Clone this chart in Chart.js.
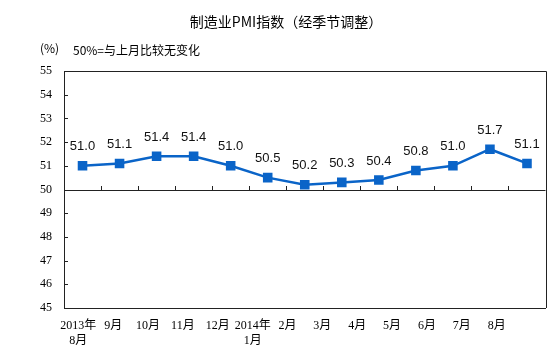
<!DOCTYPE html>
<html>
<head>
<meta charset="utf-8">
<script src="https://cdn.jsdelivr.net/npm/chart.js@4"></script>
<style>
  html, body { margin: 0; padding: 0; background: #fff; }
  #box { width: 553px; height: 364px; position: relative; }
</style>
</head>
<body>
<div id="box"><canvas id="grafico"></canvas></div>
<script>
// Dados do gráfico
const rotulosMeses = [['2013年', '8月'], '9月', '10月', '11月', '12月', ['2014年', '1月'], '2月', '3月', '4月', '5月', '6月', '7月', '8月'];
const valoresPMI = [51.0, 51.1, 51.4, 51.4, 51.0, 50.5, 50.2, 50.3, 50.4, 50.8, 51.0, 51.7, 51.1];
const escalaY = { min: 45, max: 55, passo: 1 };
const linhaBase = 50;
// faixa do eixo dos rótulos (no original os rótulos têm espaçamento menor que os pontos)
const faixaRotulos = { min: -0.41, max: 13.4 };

const titulo = '制造业PMI指数（经季节调整）';
const unidade = '(%)';
const nota = '50%=与上月比较无变化';

const fonteSerif = "'Liberation Serif', 'Noto Sans CJK SC', serif";
const fonteCJK = "'Noto Sans CJK SC', sans-serif";

// Plugin: textos, linha dos 50, marcas de escala e rótulos dos valores
const pluginExtras = {
    id: 'extras',
    afterDraw(chart) {
        const ctx = chart.ctx;
        const area = chart.chartArea;
        const x = chart.scales.x;
        const y = chart.scales.y;
        ctx.save();

        // borda superior e direita
        ctx.strokeStyle = '#222';
        ctx.lineWidth = 1;
        ctx.beginPath();
        ctx.moveTo(area.left, Math.round(area.top) + 0.5);
        ctx.lineTo(Math.round(area.right) + 0.5, Math.round(area.top) + 0.5);
        ctx.lineTo(Math.round(area.right) + 0.5, area.bottom);
        ctx.stroke();

        // linha dos 50
        const y50 = Math.round(y.getPixelForValue(linhaBase));
        ctx.beginPath();
        ctx.moveTo(area.left, y50 + 0.5);
        ctx.lineTo(area.right, y50 + 0.5);

        // marcas do eixo x sobre a linha dos 50
        const larg = (area.right - area.left) / rotulosMeses.length;
        for (let i = 1; i < rotulosMeses.length; i++) {
            const px = Math.round(x.getPixelForValue(i) - larg / 2) + 0.5;
            ctx.moveTo(px, y50);
            ctx.lineTo(px, y50 - 4);
        }
        // marcas do eixo y (para dentro)
        for (let v = escalaY.min + 1; v < escalaY.max; v++) {
            const py = Math.round(y.getPixelForValue(v)) + 0.5;
            ctx.moveTo(area.left, py);
            ctx.lineTo(area.left + 4, py);
        }
        ctx.stroke();

        // rótulos dos valores
        const meta = chart.getDatasetMeta(0);
        ctx.fillStyle = '#111';
        ctx.font = "13px 'Liberation Sans', Arial, sans-serif";
        ctx.textAlign = 'center';
        ctx.textBaseline = 'middle';
        meta.data.forEach((pt, i) => {
            ctx.fillText(valoresPMI[i].toFixed(1), pt.x, pt.y - 19);
        });

        // título e notas
        ctx.fillStyle = '#000';
        ctx.font = '14px ' + fonteCJK;
        ctx.fillText(titulo, 286, 22);
        ctx.font = '12px ' + fonteCJK;
        ctx.textAlign = 'left';
        ctx.fillText(unidade, 40, 48);
        ctx.fillText(nota, 73, 50);
        ctx.restore();
    }
};

function desenharGrafico() {
    const ctx = document.getElementById('grafico');
    new Chart(ctx.getContext('2d'), {
        type: 'line',
        data: {
            labels: rotulosMeses,
            datasets: [{
                label: 'PMI',
                data: valoresPMI,
                borderColor: '#0A64C8',
                backgroundColor: '#0A64C8',
                borderWidth: 2.5,
                pointStyle: 'rect',
                pointRadius: 5,
                pointHoverRadius: 5,
                tension: 0,
                fill: false,
                xAxisID: 'x'
            }]
        },
        options: {
            responsive: true,
            maintainAspectRatio: false,
            animation: false,
            layout: { padding: { top: 71, right: 7, left: 0, bottom: 0 } },
            plugins: {
                legend: { display: false },
                tooltip: { enabled: false }
            },
            scales: {
                x: {
                    display: false,
                    offset: true
                },
                xRotulos: {
                    type: 'linear',
                    position: 'bottom',
                    min: faixaRotulos.min,
                    max: faixaRotulos.max,
                    grid: { display: false, drawTicks: false },
                    border: { display: true, color: '#222', width: 1 },
                    afterBuildTicks(s) {
                        s.ticks = rotulosMeses.map((_, i) => ({ value: i }));
                    },
                    ticks: {
                        color: '#000',
                        font: { family: fonteSerif, size: 12 },
                        padding: 11,
                        maxRotation: 0,
                        autoSkip: false,
                        callback: (v) => rotulosMeses[v]
                    },
                    afterFit(s) { s.height = 56; }
                },
                y: {
                    min: escalaY.min,
                    max: escalaY.max,
                    grid: { display: false, drawTicks: false },
                    border: { display: true, color: '#222', width: 1 },
                    ticks: {
                        stepSize: escalaY.passo,
                        color: '#000',
                        font: { family: fonteSerif, size: 12 },
                        padding: 12
                    },
                    afterFit(s) { s.width = 64; }
                }
            }
        },
        plugins: [pluginExtras]
    });
}

desenharGrafico();
</script>
</body>
</html>
